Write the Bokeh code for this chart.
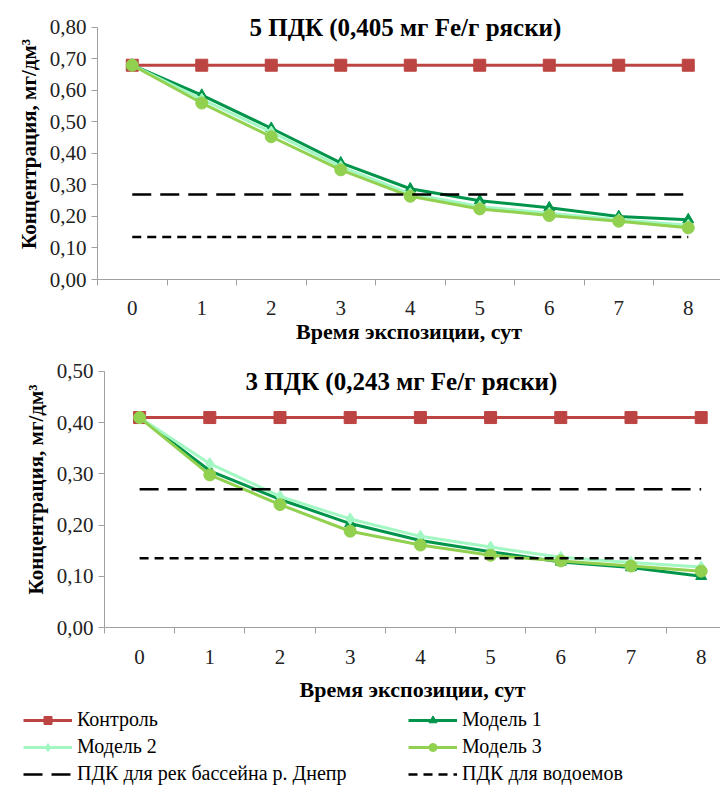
from bokeh.plotting import figure
from bokeh.models import (Range1d, FixedTicker, CustomJSTickFormatter, Label,
                          Legend, LegendItem)
from bokeh.layouts import column
from bokeh.embed import file_html
from bokeh.resources import INLINE

# ---------------- data ----------------
days = [0, 1, 2, 3, 4, 5, 6, 7, 8]
day_edges = [-0.5, 0.5, 1.5, 2.5, 3.5, 4.5, 5.5, 6.5, 7.5, 8.5]

top_title = "5 ПДК (0,405 мг Fe/г ряски)"
top_control = [0.68, 0.68, 0.68, 0.68, 0.68, 0.68, 0.68, 0.68, 0.68]
top_model1 = [0.68, 0.585, 0.48, 0.37, 0.288, 0.25, 0.228, 0.20, 0.19]
top_model2 = [0.68, 0.572, 0.468, 0.358, 0.272, 0.232, 0.21, 0.19, 0.172]
top_model3 = [0.68, 0.56, 0.453, 0.348, 0.264, 0.224, 0.203, 0.185, 0.164]
top_yticks = [0.0, 0.1, 0.2, 0.3, 0.4, 0.5, 0.6, 0.7, 0.8]

bot_title = "3 ПДК (0,243 мг Fe/г ряски)"
bot_control = [0.41, 0.41, 0.41, 0.41, 0.41, 0.41, 0.41, 0.41, 0.41]
bot_model1 = [0.41, 0.306, 0.25, 0.203, 0.17, 0.148, 0.128, 0.117, 0.10]
bot_model2 = [0.41, 0.32, 0.256, 0.212, 0.178, 0.157, 0.137, 0.127, 0.118]
bot_model3 = [0.41, 0.298, 0.24, 0.188, 0.161, 0.141, 0.13, 0.12, 0.11]
bot_yticks = [0.0, 0.1, 0.2, 0.3, 0.4, 0.5]

pdk_river = 0.27     # ПДК для рек бассейна р. Днепр
pdk_water = 0.135    # ПДК для водоемов

x_title = "Время экспозиции, сут"
y_title = "Концентрация, мг/дм³"
names = ["Контроль", "Модель 1", "Модель 2", "Модель 3",
         "ПДК для рек бассейна р. Днепр", "ПДК для водоемов"]

# ---------------- styles ----------------
FONT = "Liberation Serif"
C_CTRL = "#BC4442"
C_M1 = "#00954A"
C_M2 = "#A2F7C2"
C_M3 = "#92D050"
AXIS_C = "#A0A0A0"
W = 720


def make_panel(title, ctrl, m1, m2, m3, yticks, ymax, ytop, xend, height,
               bl, bt, bb, tx, ty, lab_standoff, title_standoff):
    p = figure(width=W, height=height, output_backend="svg",
               toolbar_location=None, x_range=Range1d(-0.5, xend),
               y_range=Range1d(0, ytop), min_border_left=bl,
               min_border_right=0, min_border_top=bt, min_border_bottom=bb,
               frame_align=False)
    p.outline_line_color = None
    p.grid.visible = False
    p.background_fill_color = "white"

    p.line(days, ctrl, line_color=C_CTRL, line_width=3)
    p.scatter(days, ctrl, marker="square", size=12, fill_color=C_CTRL,
              line_color=C_CTRL)
    p.line(days, m1, line_color=C_M1, line_width=3)
    p.scatter(days, m1, marker="triangle", size=11, fill_color=C_M1,
              line_color=C_M1)
    p.line(days, m2, line_color=C_M2, line_width=3)
    p.scatter(days, m2, marker="diamond", size=12, fill_color=C_M2,
              line_color=C_M2)
    p.line(days, m3, line_color=C_M3, line_width=3)
    p.scatter(days, m3, marker="circle", size=12, fill_color=C_M3,
              line_color=C_M3)
    p.line(days, [pdk_river] * len(days), line_color="black", line_width=2.5,
           line_dash="19 9")
    p.line(days, [pdk_water] * len(days), line_color="black", line_width=2.5,
           line_dash="9 6")

    ya = p.yaxis[0]
    ya.bounds = (0, ymax)
    ya.ticker = FixedTicker(ticks=yticks)
    ya.formatter = CustomJSTickFormatter(
        code="return tick.toFixed(2).replace('.', ',');")
    ya.axis_line_color = AXIS_C
    ya.major_tick_line_color = AXIS_C
    ya.major_tick_in = 0
    ya.major_tick_out = 6
    ya.minor_tick_line_color = None
    ya.major_label_text_font = FONT
    ya.major_label_text_font_size = "21px"
    ya.major_label_text_color = "#222222"
    ya.major_label_standoff = 5
    ya.axis_label = y_title
    ya.axis_label_text_font = FONT
    ya.axis_label_text_font_style = "bold"
    ya.axis_label_text_font_size = "21px"
    ya.axis_label_text_color = "black"
    ya.axis_label_standoff = 6

    xa = p.xaxis[0]
    xa.ticker = FixedTicker(ticks=days, minor_ticks=day_edges)
    xa.axis_line_color = AXIS_C
    xa.major_tick_line_color = None
    xa.major_tick_in = 0
    xa.major_tick_out = 0
    xa.minor_tick_line_color = AXIS_C
    xa.minor_tick_in = 0
    xa.minor_tick_out = 6
    xa.major_label_text_font = FONT
    xa.major_label_text_font_size = "21px"
    xa.major_label_text_color = "#222222"
    xa.major_label_standoff = lab_standoff
    xa.axis_label = x_title
    xa.axis_label_text_font = FONT
    xa.axis_label_text_font_style = "bold"
    xa.axis_label_text_font_size = "22px"
    xa.axis_label_text_color = "black"
    xa.axis_label_standoff = title_standoff

    p.add_layout(Label(x=tx, y=ty, text=title, text_font=FONT,
                       text_font_style="bold", text_font_size="25px",
                       text_align="center", text_baseline="middle",
                       text_color="black"))
    return p


p1 = make_panel(top_title, top_control, top_model1, top_model2, top_model3,
                top_yticks, 0.8, 0.860, 8.464, 346, 97, 8, 66, 3.93, 0.80, 15, 1)
p2 = make_panel(bot_title, bot_control, bot_model1, bot_model2, bot_model3,
                bot_yticks, 0.5, 0.539, 8.275, 358, 104, 5, 77, 3.73, 0.48, 16, 10)

# ---------------- legend panel ----------------
p3 = figure(width=W, height=81, output_backend="svg", toolbar_location=None,
            x_axis_location=None, y_axis_location=None,
            min_border_left=0, min_border_right=0, min_border_top=0,
            min_border_bottom=0, frame_align=False,
            x_range=Range1d(0, 1), y_range=Range1d(0, 1))
p3.outline_line_color = None
p3.grid.visible = False

ex, ey = [float("nan")], [float("nan")]
r_c = [p3.line(ex, ey, line_color=C_CTRL, line_width=3),
       p3.scatter(ex, ey, marker="square", size=12, fill_color=C_CTRL, line_color=C_CTRL)]
r_1 = [p3.line(ex, ey, line_color=C_M1, line_width=3),
       p3.scatter(ex, ey, marker="triangle", size=11, fill_color=C_M1, line_color=C_M1)]
r_2 = [p3.line(ex, ey, line_color=C_M2, line_width=3),
       p3.scatter(ex, ey, marker="diamond", size=12, fill_color=C_M2, line_color=C_M2)]
r_3 = [p3.line(ex, ey, line_color=C_M3, line_width=3),
       p3.scatter(ex, ey, marker="circle", size=12, fill_color=C_M3, line_color=C_M3)]
r_r = [p3.line(ex, ey, line_color="black", line_width=2.5, line_dash="19 9")]
r_w = [p3.line(ex, ey, line_color="black", line_width=2.5, line_dash="9 6")]


def mk_legend(items, loc):
    return Legend(items=items, location=loc, orientation="vertical",
                  padding=0, margin=0, spacing=4, border_line_color=None,
                  background_fill_alpha=0, glyph_width=49, glyph_height=20,
                  label_height=20, label_standoff=5, label_text_font=FONT,
                  label_text_font_size="20px", label_text_color="black")


leg_left = mk_legend([LegendItem(label=names[0], renderers=r_c),
                      LegendItem(label=names[2], renderers=r_2),
                      LegendItem(label=names[4], renderers=r_r)], (23, 0))
leg_right = mk_legend([LegendItem(label=names[1], renderers=r_1),
                       LegendItem(label=names[3], renderers=r_3),
                       LegendItem(label=names[5], renderers=r_w)], (408, 0))
p3.add_layout(leg_left, "center")
p3.add_layout(leg_right, "center")

layout = column(p1, p2, p3, spacing=0)
open("out.html", "w").write(file_html(layout, INLINE))
